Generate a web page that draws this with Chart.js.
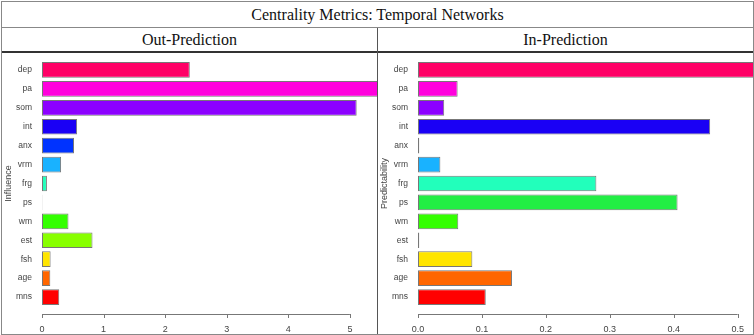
<!DOCTYPE html>
<html>
<head>
<meta charset="utf-8">
<script src="https://cdn.jsdelivr.net/npm/chart.js@4"></script>
<style>
  html, body { margin: 0; padding: 0; background: #fff; }
  #frame { position: absolute; left: 1px; top: 1px; width: 751px; height: 332px; border: 1px solid #888; box-sizing: content-box; }
  #title { position: absolute; left: 0; top: 0; width: 751px; height: 25px; border-bottom: 1px solid #888;
           font-family: "Liberation Serif", "Times New Roman", serif; font-size: 16px; line-height: 25px; text-align: center; color: #111; }
  .head { position: absolute; top: 26px; height: 23px; border-bottom: 2px solid #333;
          font-family: "Liberation Serif", "Times New Roman", serif; font-size: 16px; line-height: 24px; text-align: center; color: #111; }
  #headL { left: 0; width: 375px; border-right: 1px solid #333; }
  #headR { left: 376px; width: 375px; }
  #divider { position: absolute; left: 375px; top: 26px; width: 1px; height: 306px; background: #555; }
  .box { position: absolute; top: 51px; height: 281px; }
  #boxL { left: 1px; width: 374px; }
  #boxR { left: 377px; width: 374px; }
</style>
</head>
<body>
<div id="frame">
  <div id="title">Centrality Metrics: Temporal Networks</div>
  <div class="head" id="headL">Out-Prediction</div>
  <div class="head" id="headR">In-Prediction</div>
  <div id="divider"></div>
  <div class="box" id="boxL"><canvas id="outChart"></canvas></div>
  <div class="box" id="boxR"><canvas id="inChart"></canvas></div>
</div>
<script>
const nodes = ['dep', 'pa', 'som', 'int', 'anx', 'vrm', 'frg', 'ps', 'wm', 'est', 'fsh', 'age', 'mns'];
const nodeColors = ['#FF0066', '#FF00DD', '#8C00FF', '#1A00F5', '#0033FF', '#19B2FF', '#22FFBB',
                    '#22EE44', '#33FF00', '#88FF00', '#FFE500', '#FF6600', '#FF0000'];
const influence = [2.40, 5.60, 5.11, 0.57, 0.52, 0.31, 0.08, 0.005, 0.43, 0.82, 0.14, 0.135, 0.28];
const predictability = [0.56, 0.062, 0.041, 0.457, 0.002, 0.035, 0.279, 0.406, 0.063, 0.002, 0.085, 0.147, 0.106];
const influenceTicks = [0, 1, 2, 3, 4, 5];
const predictTicks = [0, 0.1, 0.2, 0.3, 0.4, 0.5];

// R style axis: line from first to last tick, a little below the bars
const rAxis = {
  id: 'rAxis',
  afterDraw(chart, args, opts) {
    const x = chart.scales.x;
    const ctx = chart.ctx;
    const y = Math.round(chart.chartArea.bottom + 7.5);
    ctx.save();
    ctx.strokeStyle = '#777';
    ctx.lineWidth = 1;
    ctx.beginPath();
    ctx.moveTo(x.getPixelForValue(opts.ticks[0]), y + 0.5);
    ctx.lineTo(x.getPixelForValue(opts.ticks[opts.ticks.length - 1]), y + 0.5);
    opts.ticks.forEach(t => {
      const px = Math.round(x.getPixelForValue(t)) + 0.5;
      ctx.moveTo(px, y);
      ctx.lineTo(px, y + 4);
    });
    ctx.stroke();
    ctx.restore();
  }
};

function makeChart(id, values, ticks, max, title, decimals) {
  new Chart(document.getElementById(id), {
    type: 'bar',
    data: {
      labels: nodes,
      datasets: [{
        data: values,
        backgroundColor: nodeColors,
        borderColor: '#777',
        borderWidth: 1,
        borderSkipped: false,
        categoryPercentage: 0.83,
        barPercentage: 1
      }]
    },
    options: {
      indexAxis: 'y',
      responsive: true,
      maintainAspectRatio: false,
      animation: false,
      layout: { padding: { top: 7.5, bottom: 0, right: 0, left: 0 } },
      plugins: { legend: { display: false }, tooltip: { enabled: false }, rAxis: { ticks: ticks } },
      scales: {
        x: {
          min: 0,
          max: max,
          grid: { display: false, drawTicks: false },
          border: { display: false },
          afterFit: s => { s.height = 27.5; s.paddingLeft = 0; s.paddingRight = 0; },
          afterBuildTicks: s => { s.ticks = ticks.map(v => ({ value: v })); },
          ticks: {
            padding: 18,
            color: '#444',
            font: { family: 'Liberation Sans, Arial, sans-serif', size: 9 },
            callback: v => v.toFixed(decimals)
          }
        },
        y: {
          grid: { display: false, drawTicks: false },
          border: { display: false },
          afterFit: s => { s.width = 39; s.paddingTop = 0; s.paddingBottom = 0; },
          title: {
            display: true,
            text: title,
            color: '#444',
            padding: 0,
            font: { family: 'Liberation Sans, Arial, sans-serif', size: 9 }
          },
          ticks: {
            padding: 10,
            color: '#444',
            font: { family: 'Liberation Sans, Arial, sans-serif', size: 8.5 }
          }
        }
      }
    },
    plugins: [rAxis]
  });
}

makeChart('outChart', influence, influenceTicks, 5.44, 'Influence', 0);
makeChart('inChart', predictability, predictTicks, 0.524, 'Predictability', 1);
</script>
</body>
</html>
